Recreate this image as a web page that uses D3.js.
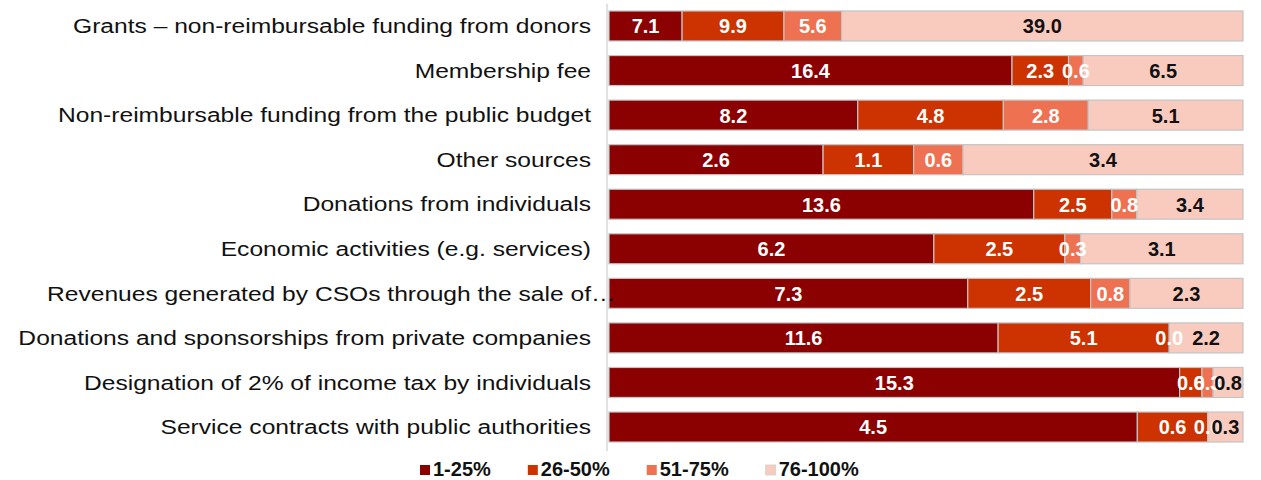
<!DOCTYPE html>
<html>
<head>
<meta charset="utf-8">
<script src="https://cdn.jsdelivr.net/npm/d3@7"></script>
<style>
  html, body { margin: 0; padding: 0; background: #fff; }
  svg { display: block; }
</style>
</head>
<body>
<svg id="chart" width="1261" height="480"></svg>
<script>
// Funding sources, top to bottom
const categories = [
  "Grants – non-reimbursable funding from donors",
  "Membership fee",
  "Non-reimbursable funding from the public budget",
  "Other sources",
  "Donations from individuals",
  "Economic activities (e.g. services)",
  "Revenues generated by CSOs through the sale of…",
  "Donations and sponsorships from private companies",
  "Designation of 2% of income tax by individuals",
  "Service contracts with public authorities"
];

// Share bands
const seriesNames = ["1-25%", "26-50%", "51-75%", "76-100%"];

const share1to25   = [7.1, 16.4, 8.2, 2.6, 13.6, 6.2, 7.3, 11.6, 15.3, 4.5];
const share26to50  = [9.9, 2.3, 4.8, 1.1, 2.5, 2.5, 2.5, 5.1, 0.6, 0.6];
const share51to75  = [5.6, 0.6, 2.8, 0.6, 0.8, 0.3, 0.8, 0.0, 0.3, 0.0];
const share76to100 = [39.0, 6.5, 5.1, 3.4, 3.4, 3.1, 2.3, 2.2, 0.8, 0.3];

const seriesValues = [share1to25, share26to50, share51to75, share76to100];
const colors = ["#8b0000", "#cc3300", "#ee7152", "#f9cbbf"];
const labelColors = ["#ffffff", "#ffffff", "#ffffff", "#111111"];

const svg = d3.select("#chart");

// Rows as objects with per-series values
const rows = categories.map((c, i) => {
  const r = { category: c };
  seriesNames.forEach((s, j) => { r[s] = seriesValues[j][i]; });
  return r;
});

const stacked = d3.stack().keys(seriesNames).offset(d3.stackOffsetExpand)(rows);

const x = d3.scaleLinear().domain([0, 1]).range([609, 1243]);
const y = d3.scaleBand()
  .domain(categories)
  .range([3.7, 449.3])
  .paddingInner(0.327)
  .paddingOuter(0.1635);

// Category axis line
svg.append("line")
  .attr("x1", 607).attr("x2", 607)
  .attr("y1", y.range()[0]).attr("y2", y.range()[1] + 2)
  .attr("stroke", "#d9d9d9").attr("stroke-width", 1.5);

// Bars
const layers = svg.append("g").selectAll("g")
  .data(stacked)
  .join("g")
  .attr("fill", (d, i) => colors[i]);

layers.selectAll("rect")
  .data(d => d.map(p => ({ p, cat: p.data.category })))
  .join("rect")
  .attr("x", d => x(d.p[0]))
  .attr("width", d => Math.max(0, x(d.p[1]) - x(d.p[0])))
  .attr("y", d => y(d.cat))
  .attr("height", y.bandwidth())
  .attr("stroke", "#c4c4c4")
  .attr("stroke-width", 1.2);

// Value labels, centred in each segment
const fmt = d3.format(".1f");
stacked.forEach((layer, i) => {
  svg.append("g").selectAll("text")
    .data(layer)
    .join("text")
    .attr("x", d => (x(d[0]) + x(d[1])) / 2)
    .attr("y", d => y(d.data.category) + y.bandwidth() / 2)
    .attr("dy", "0.37em")
    .attr("text-anchor", "middle")
    .attr("font-family", "'Liberation Sans', Arial, sans-serif")
    .attr("font-size", 20)
    .attr("font-weight", "bold")
    .attr("fill", labelColors[i])
    .text(d => fmt(d.data[layer.key]));
});

// Category labels (slightly widened type), right aligned against the axis
const labelRight = 591;
const labelScale = 1.23;
const catG = svg.append("g");
categories.forEach(c => {
  const cy = y(c) + y.bandwidth() / 2;
  const truncated = c.endsWith("…");
  const main = truncated ? c.slice(0, -1) : c;
  const g = catG.append("g")
    .attr("transform", `translate(${labelRight},${cy}) scale(${labelScale},1)`);
  g.append("text")
    .attr("x", 0)
    .attr("dy", "0.36em")
    .attr("text-anchor", "end")
    .attr("font-family", "'Liberation Sans', Arial, sans-serif")
    .attr("font-size", 20)
    .attr("fill", "#111")
    .text(main);
  if (truncated) {
    g.append("text")
      .attr("x", 0)
      .attr("dy", "0.36em")
      .attr("text-anchor", "start")
      .attr("font-family", "'Liberation Sans', Arial, sans-serif")
      .attr("font-size", 20)
      .attr("fill", "#111")
      .text("…");
  }
});

// Legend
const legend = svg.append("g");
let lx = 420;
const ly = 469;
seriesNames.forEach((s, i) => {
  legend.append("rect")
    .attr("x", lx).attr("y", ly - 4)
    .attr("width", 10).attr("height", 10)
    .attr("fill", colors[i])
    .attr("stroke", i === 3 ? "#d0d0d0" : "none")
    .attr("stroke-width", 0.8);
  const t = legend.append("text")
    .attr("x", lx + 13)
    .attr("y", ly)
    .attr("dy", "0.36em")
    .attr("font-family", "'Liberation Sans', Arial, sans-serif")
    .attr("font-size", 20)
    .attr("font-weight", "bold")
    .attr("fill", "#111")
    .text(s);
  lx += 13 + t.node().getComputedTextLength() + 37;
});
</script>
</body>
</html>
